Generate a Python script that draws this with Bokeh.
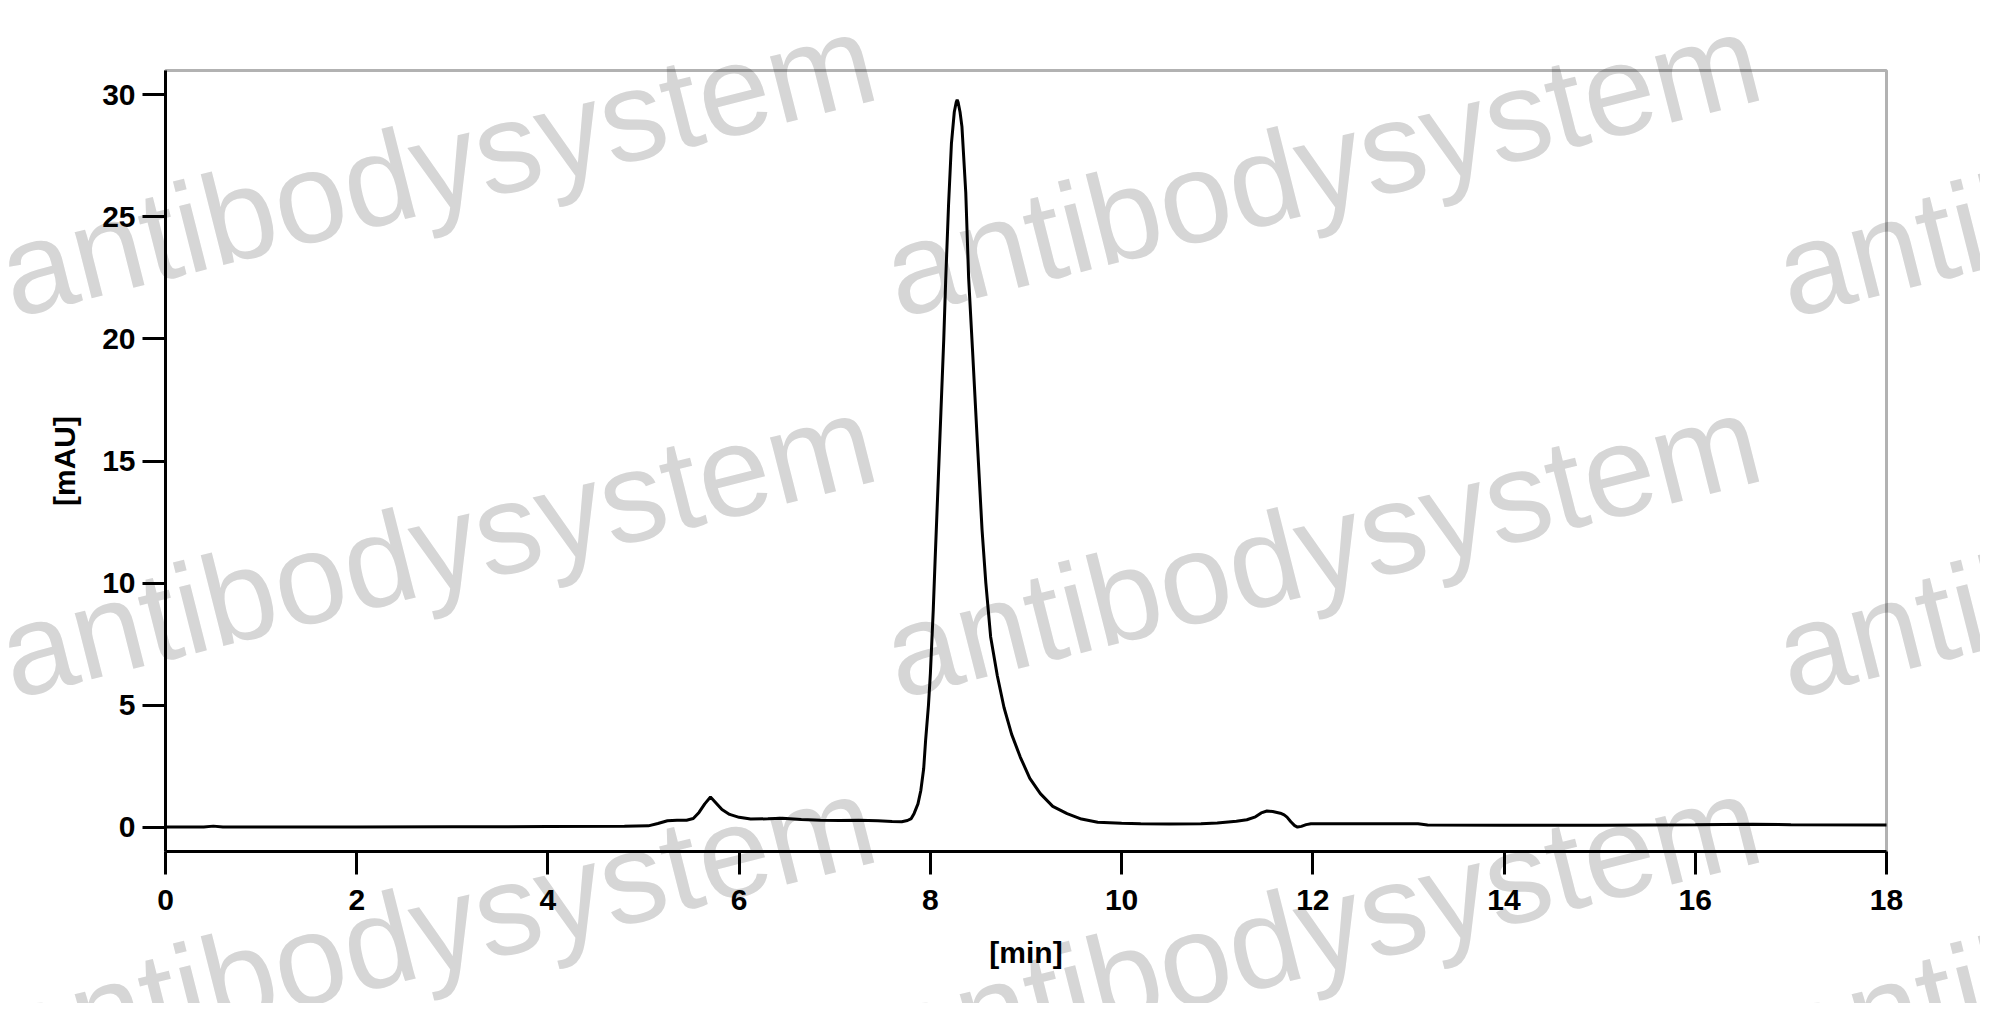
import numpy as np

from bokeh.models import Range1d, FixedTicker, Label, BoxAnnotation
from bokeh.plotting import figure
from bokeh.embed import file_html
from bokeh.resources import INLINE

# Chromatogram trace (retention time in min, signal in mAU)
time_min = [0.0, 0.4, 0.5, 0.6, 1.0, 2.0, 3.0, 4.0, 4.8, 5.05,
            5.15, 5.25, 5.35, 5.45, 5.52, 5.58, 5.64, 5.70, 5.76, 5.82,
            5.90, 6.00, 6.12, 6.30, 6.45, 6.65, 6.85, 7.05, 7.25, 7.45,
            7.60, 7.70, 7.76, 7.80, 7.83, 7.87, 7.90, 7.93, 7.95, 7.98,
            8.00, 8.03, 8.05, 8.08, 8.11, 8.14, 8.16, 8.19, 8.22, 8.25,
            8.27, 8.28, 8.29, 8.31, 8.33, 8.37, 8.40, 8.44, 8.49, 8.54,
            8.58, 8.63, 8.70, 8.77, 8.85, 8.94, 9.04, 9.15, 9.28, 9.43,
            9.58, 9.75, 10.0, 10.2, 10.5, 10.83, 11.0, 11.2, 11.31, 11.40,
            11.46, 11.52, 11.58, 11.66, 11.70, 11.73, 11.77, 11.81, 11.84, 11.88,
            11.93, 11.98, 12.3, 12.92, 13.10, 13.20, 14.0, 15.0, 16.0, 16.6,
            17.0, 18.0]
signal_mau = [0.0, 0.0, 0.04, 0.0, 0.0, 0.0, 0.01, 0.02, 0.03, 0.05,
              0.15, 0.26, 0.28, 0.28, 0.35, 0.60, 0.95, 1.23, 0.98, 0.72,
              0.52, 0.40, 0.33, 0.34, 0.36, 0.31, 0.28, 0.27, 0.28, 0.26,
              0.23, 0.22, 0.27, 0.35, 0.56, 0.95, 1.50, 2.40, 3.55, 5.00,
              6.30, 8.90, 11.0, 14.0, 17.0, 20.0, 22.4, 25.5, 28.0, 29.3,
              29.7, 29.8, 29.7, 29.3, 28.7, 26.0, 22.5, 19.6, 15.85, 12.2,
              10.0, 7.80, 6.20, 4.90, 3.80, 2.87, 2.00, 1.37, 0.85, 0.55,
              0.33, 0.20, 0.16, 0.14, 0.13, 0.14, 0.17, 0.24, 0.30, 0.42,
              0.58, 0.66, 0.64, 0.57, 0.50, 0.41, 0.22, 0.06, 0.00, 0.03,
              0.10, 0.14, 0.14, 0.14, 0.14, 0.09, 0.08, 0.08, 0.10, 0.12,
              0.10, 0.09]

x_ticks = [0, 2, 4, 6, 8, 10, 12, 14, 16, 18]
y_ticks = [0, 5, 10, 15, 20, 25, 30]

watermark = "antibodysystem"

# limits of the boxed plot area
X_LO, X_HI = 0, 18
Y_LO, Y_HI = -1.0, 31.0

# canvas size and where the box sits on it (px)
W, H = 1980, 1003
FL, FR, FT, FB = 165, 1886, 70, 851

# the frame fills the whole canvas so the watermark can run past the box;
# the axes are pinned to the box edges with fixed_location
sx = (FR - FL) / (X_HI - X_LO)
sy = (FB - FT) / (Y_HI - Y_LO)
x_start = X_LO - FL / sx
y_top = Y_HI + FT / sy


def canvas_to_data(px, py):
    return x_start + px / sx, y_top - py / sy


p = figure(width=W, height=H, output_backend="svg", toolbar_location=None,
           x_range=Range1d(x_start, X_HI + (W - FR) / sx),
           y_range=Range1d(Y_LO - (H - FB) / sy, y_top),
           min_border=0)

p.background_fill_color = "white"
p.border_fill_color = "white"
p.grid.visible = False
p.outline_line_color = None

# watermark tiles, behind everything
for wx in [2, 887, 1779]:
    for wy in [274, 655, 1036]:
        lx, ly = canvas_to_data(wx, wy)
        p.add_layout(Label(x=lx, y=ly, text=watermark, angle=14.2, angle_units="deg",
                           text_font="Liberation Sans", text_font_size="129px",
                           text_color="#d6d6d6", text_align="left",
                           text_baseline="alphabetic", level="underlay"))

p.line(time_min, signal_mau, line_color="black", line_width=3)

p.add_layout(BoxAnnotation(left=X_LO, right=X_HI, bottom=Y_LO, top=Y_HI,
                           fill_alpha=0, line_color="black", line_width=3))

for ax in [p.xaxis[0], p.yaxis[0]]:
    ax.axis_line_color = "black"
    ax.axis_line_width = 3
    ax.major_tick_line_color = "black"
    ax.major_tick_line_width = 3
    ax.major_tick_in = 0
    ax.major_tick_out = 23
    ax.minor_tick_line_color = None
    ax.major_label_text_font = "Liberation Sans"
    ax.major_label_text_font_style = "bold"
    ax.major_label_text_font_size = "30px"
    ax.major_label_text_color = "black"
    ax.axis_label_text_font = "Liberation Sans"
    ax.axis_label_text_font_style = "bold"
    ax.axis_label_text_font_size = "30px"
    ax.axis_label_text_color = "black"

p.xaxis.fixed_location = Y_LO
p.yaxis.fixed_location = X_LO
p.xaxis.bounds = (X_LO, X_HI)
p.yaxis.bounds = (Y_LO, Y_HI)
p.xaxis.ticker = FixedTicker(ticks=x_ticks)
p.yaxis.ticker = FixedTicker(ticks=y_ticks)
p.xaxis.axis_label = "[min]"
p.yaxis.axis_label = "[mAU]"
p.xaxis.major_label_standoff = 15
p.yaxis.major_label_standoff = 7
p.xaxis.axis_label_standoff = 23
p.yaxis.axis_label_standoff = 18

open("out.html", "w").write(file_html(p, INLINE))
